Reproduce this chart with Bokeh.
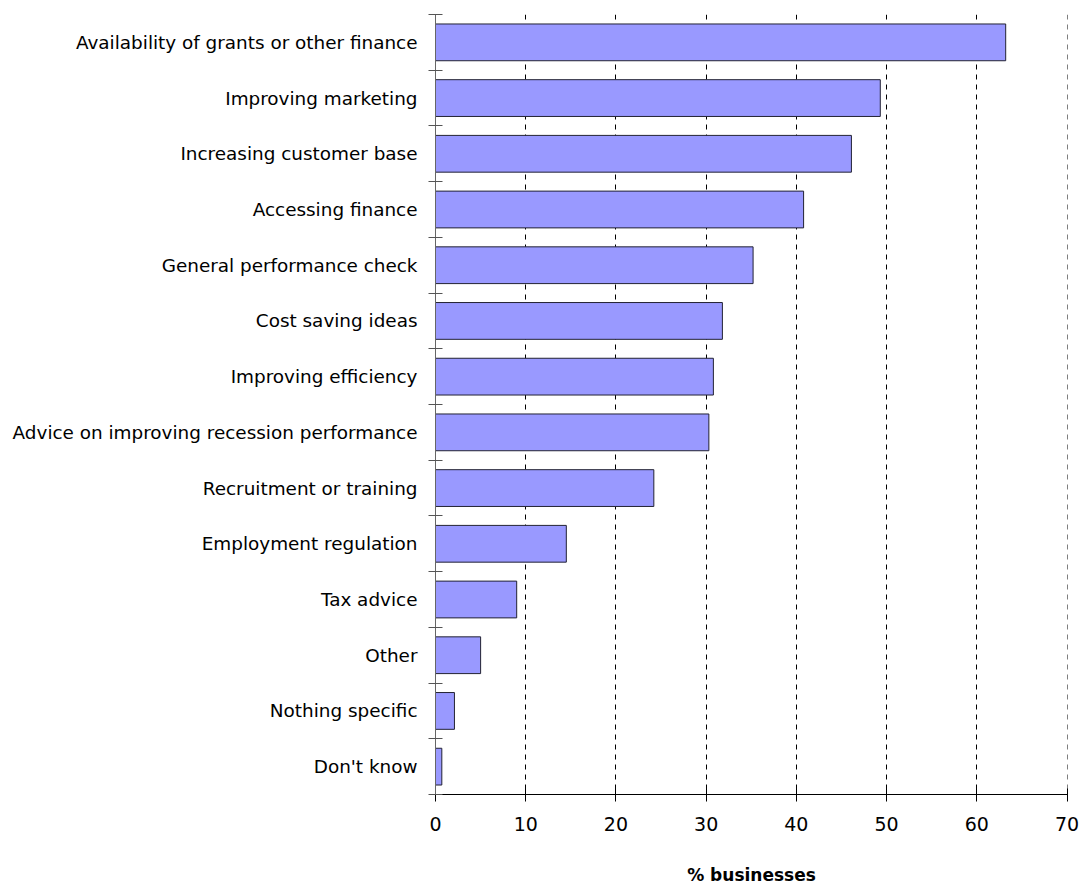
from bokeh.plotting import figure
from bokeh.models import Range1d, FixedTicker, ColumnDataSource
from bokeh.embed import file_html
from bokeh.resources import INLINE

categories = [
    "Availability of grants or other finance",
    "Improving marketing",
    "Increasing customer base",
    "Accessing finance",
    "General performance check",
    "Cost saving ideas",
    "Improving efficiency",
    "Advice on improving recession performance",
    "Recruitment or training",
    "Employment regulation",
    "Tax advice",
    "Other",
    "Nothing specific",
    "Don't know",
]
values = [63.2, 49.3, 46.1, 40.8, 35.2, 31.8, 30.8, 30.3, 24.2, 14.5, 9.0, 5.0, 2.1, 0.7]
x_ticks = [0, 10, 20, 30, 40, 50, 60, 70]

n = len(categories)
pos = list(range(1, n + 1))
src = ColumnDataSource(dict(y=pos, v=values, cat=categories))

FONT = "DejaVu Sans"

p = figure(
    output_backend="svg", toolbar_location=None,
    frame_width=632, frame_height=780,
    x_range=Range1d(0, 70.05), y_range=Range1d(n + 0.5, 0.5),
    min_border_left=435, min_border_top=14, min_border_right=16, min_border_bottom=0,
)
p.outline_line_color = None
p.background_fill_color = "white"
p.border_fill_color = "white"

p.hbar(y="y", right="v", left=0, height=0.66, source=src,
       fill_color="#9999FF", line_color="#222233", line_width=1)

# x axis
p.xaxis.ticker = FixedTicker(ticks=x_ticks)
p.xaxis.axis_line_color = "black"
p.xaxis.major_tick_line_color = "black"
p.xaxis.major_tick_in = 6
p.xaxis.major_tick_out = 7
p.xaxis.minor_tick_line_color = None
p.xaxis.major_label_standoff = 15
p.xaxis.major_label_text_font = FONT
p.xaxis.major_label_text_font_size = "19px"
p.xaxis.major_label_text_color = "black"
p.xaxis.axis_label = "% businesses"
p.xaxis.axis_label_text_font = FONT
p.xaxis.axis_label_text_font_style = "bold"
p.xaxis.axis_label_text_font_size = "17px"
p.xaxis.axis_label_text_color = "black"
p.xaxis.axis_label_standoff = 31

# y axis
p.yaxis.ticker = FixedTicker(ticks=pos, minor_ticks=[i + 0.5 for i in range(0, n + 1)])
p.yaxis.major_label_overrides = {i: c for i, c in zip(pos, categories)}
p.yaxis.major_tick_line_color = None
p.yaxis.minor_tick_line_color = "#555555"
p.yaxis.minor_tick_in = 7
p.yaxis.minor_tick_out = 7
p.yaxis.axis_line_color = "#666666"
p.yaxis.major_label_standoff = 11
p.yaxis.major_label_text_font = FONT
p.yaxis.major_label_text_font_size = "18.4px"
p.yaxis.major_label_text_color = "black"

p.xgrid.grid_line_color = "black"
p.xgrid.grid_line_dash = "5 5"
p.xgrid.grid_line_width = 1
p.ygrid.grid_line_color = None

open("out.html", "w").write(file_html(p, INLINE))
